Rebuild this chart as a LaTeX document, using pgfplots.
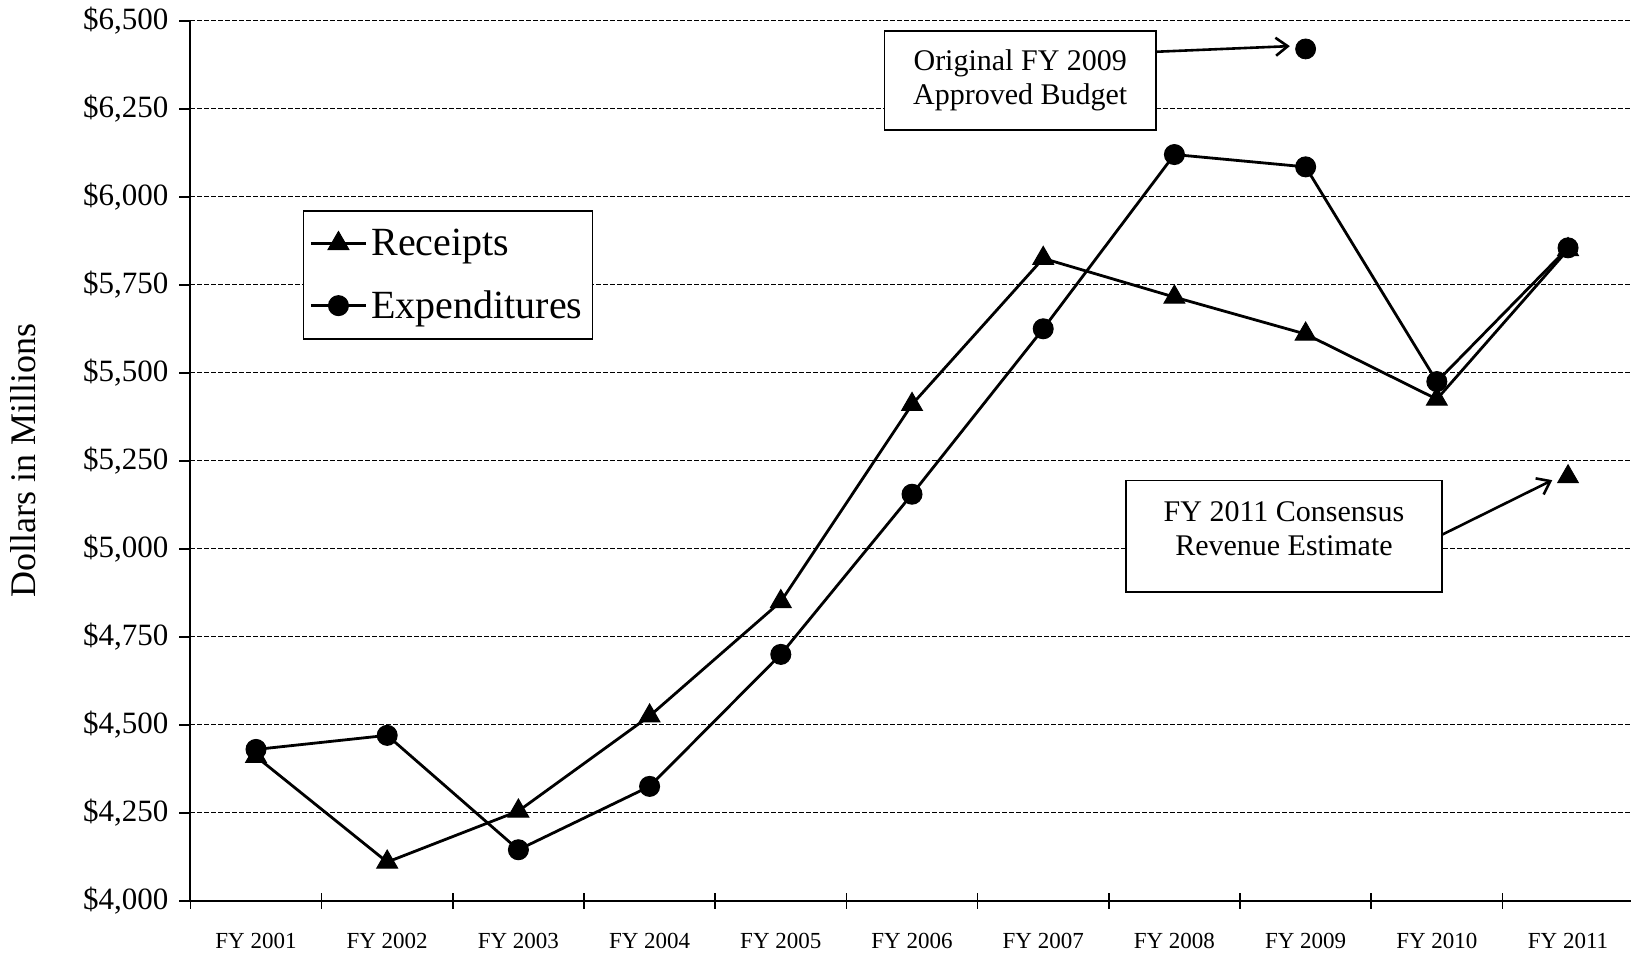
\documentclass[border=0pt]{standalone}
\usepackage{pgfplots}
\pgfplotsset{compat=1.18}
\usepackage{fontspec}
\setmainfont{Liberation Serif}
\usetikzlibrary{arrows.meta}
\begin{document}
\begin{tikzpicture}
\begin{axis}[
 scale only axis, width=720.3pt, height=440pt,
 xmin=-0.5, xmax=10.48, ymin=4000, ymax=6500,
 axis x line*=bottom, axis y line*=left,
 axis line style={-, line width=1pt, black},
 /pgf/number format/assume math mode=true,
 xtick={0,...,10},
 xticklabels={FY 2001,FY 2002,FY 2003,FY 2004,FY 2005,FY 2006,FY 2007,FY 2008,FY 2009,FY 2010,FY 2011},
 minor xtick={-0.5,0.5,1.5,2.5,3.5,4.5,5.5,6.5,7.5,8.5,9.5},
 ytick={4000,4250,4500,4750,5000,5250,5500,5750,6000,6250,6500},
 yticklabels={{\$4,000},{\$4,250},{\$4,500},{\$4,750},{\$5,000},{\$5,250},{\$5,500},{\$5,750},{\$6,000},{\$6,250},{\$6,500}},
 tick align=outside,
 major tick length=5.5pt, minor tick length=8pt,
 major x tick style={draw=none},
 minor x tick style={line width=0.8pt, black, yshift=4pt},
 ytick style={line width=0.8pt, black},
 ymajorgrids,
 y grid style={black, line width=0.6pt, dash pattern=on 2.5pt off 1pt},
 yticklabel style={font=\fontsize{15.5}{18}\selectfont, xshift=-2pt},
 xticklabel style={font=\fontsize{11.5}{13}\selectfont, yshift=-7pt},
 every axis y label/.style={at={(axis description cs:-0.1162,0.5)}, rotate=90, anchor=center},
 ylabel={\fontsize{18}{20}\selectfont Dollars in Millions},
 legend style={at={(axis description cs:0.078,0.785)}, anchor=north west, draw=black, line width=0.8pt, fill=white,
   font=\fontsize{20}{24}\selectfont, row sep=12pt, inner xsep=3pt, inner ysep=7pt},
 legend cell align=left,
 legend image code/.code={\draw[mark repeat=2,mark phase=2] plot coordinates {(0pt,0pt) (13.75pt,0pt) (27.5pt,0pt)};},
 clip=false,
]
\addplot[black, line width=1.4pt, mark=triangle*, mark size=6pt, mark options={solid, fill=black, line width=0.5pt}] coordinates {
 (0,4410) (1,4110) (2,4255) (3,4525) (4,4850) (5,5410) (6,5825) (7,5715) (8,5610) (9,5425) (10,5850)};
\addlegendentry{Receipts}
\addplot[black, line width=1.4pt, mark=*, mark size=5pt, mark options={solid, fill=black, line width=0.5pt}] coordinates {
 (0,4430) (1,4470) (2,4145) (3,4325) (4,4700) (5,5155) (6,5625) (7,6120) (8,6085) (9,5475) (10,5855)};
\addlegendentry{Expenditures}
\addplot[forget plot, only marks, black, mark=*, mark size=5pt] coordinates {(8,6420)};
\addplot[forget plot, only marks, black, mark=triangle*, mark size=6pt] coordinates {(10,5205)};
\node[draw=black, line width=0.8pt, fill=white, minimum width=135.8pt, minimum height=49.4pt] at (axis cs:5.825,6330) {};
\node[align=center, font=\fontsize{15}{17}\selectfont] at (axis cs:5.825,6330) {Original FY 2009\\Approved Budget};
\node[draw=black, line width=0.8pt, fill=white, minimum width=158pt, minimum height=55.6pt] at (axis cs:7.835,5036) {};
\node[align=center, font=\fontsize{15}{17}\selectfont, yshift=3.6pt] at (axis cs:7.835,5036) {FY 2011 Consensus\\Revenue Estimate};
\draw[line width=1.3pt, -{Straight Barb[length=6pt,width=9pt]}] (axis cs:6.86,6412) -- (axis cs:7.88,6428);
\draw[line width=1.3pt, -{Straight Barb[length=6pt,width=9pt]}] (axis cs:9.04,5040) -- (axis cs:9.88,5195);
\end{axis}
\pgfresetboundingbox
\path ([shift={(-95.2pt,-27.6pt)}]current axis.south west) rectangle ([shift={(0pt,10.4pt)}]current axis.north east);
\end{tikzpicture}
\end{document}
